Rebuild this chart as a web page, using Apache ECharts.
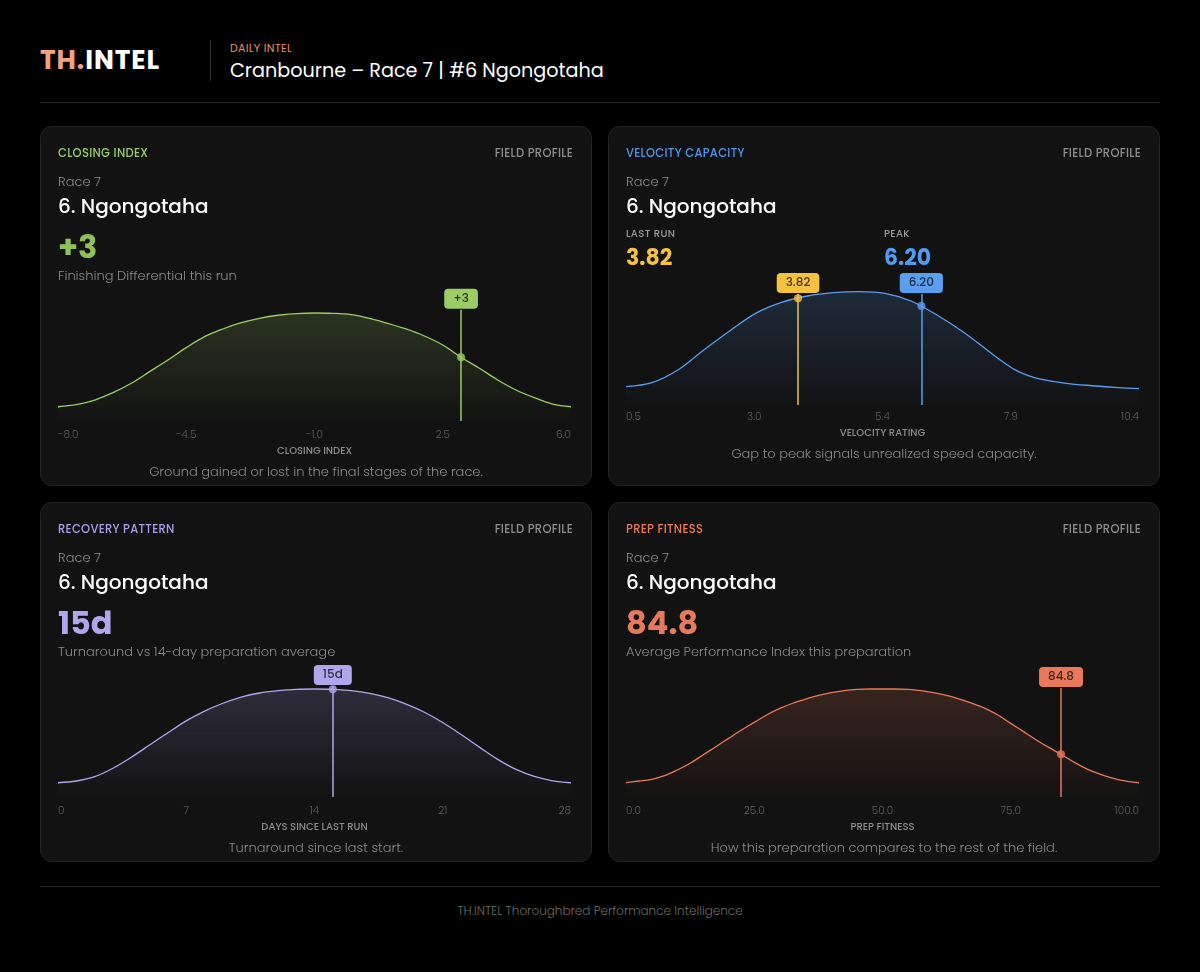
<!DOCTYPE html>
<html><head><meta charset="utf-8">
<script src="https://cdn.jsdelivr.net/npm/echarts@6/dist/echarts.min.js"></script>
<style>
html,body{margin:0;padding:0;background:#000;}
body{width:1200px;height:972px;position:relative;overflow:hidden;font-family:Poppins,Inter,"Noto Sans",sans-serif;}
.t{position:absolute;white-space:nowrap;}
.panel{position:absolute;width:550px;height:358px;background:#121212;border:1px solid #232323;border-radius:12px;}
.chart{position:absolute;left:0;top:0;width:550px;height:358px;}
.ptitle{top:18px;left:17px;height:16px;line-height:16px;font-size:11.5px;font-weight:500;letter-spacing:.3px;}
.pfield{top:18px;right:18px;height:16px;line-height:16px;font-size:11.5px;font-weight:500;color:#8e8e8e;letter-spacing:.3px;}
.race{top:46px;left:17px;height:18px;line-height:18px;font-size:13px;font-weight:300;color:#8c8c8c;}
.name{top:66px;left:17px;height:26px;line-height:26px;font-size:20px;font-weight:500;color:#fff;}
.big{top:100px;left:17px;height:40px;line-height:40px;font-size:32px;font-weight:700;}
.sub{top:140px;left:17px;height:18px;line-height:18px;font-size:13px;font-weight:300;color:#8a8a8a;}
.cap{left:0;width:550px;text-align:center;height:18px;line-height:18px;font-size:13px;font-weight:300;color:#8a8a8a;}
.stl{top:100px;height:14px;line-height:14px;font-size:10px;font-weight:500;color:#9a9a9a;letter-spacing:.4px;}
.stv{top:117px;height:28px;line-height:28px;font-size:22px;font-weight:700;}
</style></head>
<body>
<div class="t" style="left:40px;top:45px;height:30px;line-height:30px;font-size:26.5px;font-weight:700;letter-spacing:.9px;"><span style="color:#f0a283">TH.</span><span style="color:#fff">INTEL</span></div>
<div style="position:absolute;left:210px;top:40px;width:1px;height:41px;background:#333"></div>
<div class="t" style="left:230px;top:40px;height:16px;line-height:16px;font-size:11px;color:#e98f6f;letter-spacing:.3px;">DAILY INTEL</div>
<div class="t" style="left:230px;top:59px;height:24px;line-height:24px;font-size:19.2px;color:#fff;">Cranbourne – Race 7 | #6 Ngongotaha</div>
<div style="position:absolute;left:40px;top:102px;width:1120px;height:1px;background:#262626"></div>

<div class="panel" style="left:40px;top:126px;">
  <div class="chart" id="c1"></div>
  <div class="t ptitle" style="color:#9ccc65">CLOSING INDEX</div>
  <div class="t pfield">FIELD PROFILE</div>
  <div class="t race">Race 7</div>
  <div class="t name">6. Ngongotaha</div>
  <div class="t big" style="color:#8fc256">+3</div>
  <div class="t sub">Finishing Differential this run</div>
  <div class="t cap" style="top:336px;">Ground gained or lost in the final stages of the race.</div>
</div>

<div class="panel" style="left:608px;top:126px;">
  <div class="chart" id="c2"></div>
  <div class="t ptitle" style="color:#4f96ea">VELOCITY CAPACITY</div>
  <div class="t pfield">FIELD PROFILE</div>
  <div class="t race">Race 7</div>
  <div class="t name">6. Ngongotaha</div>
  <div class="t stl" style="left:17px;">LAST RUN</div>
  <div class="t stl" style="left:275px;">PEAK</div>
  <div class="t stv" style="left:17px;color:#f5c242">3.82</div>
  <div class="t stv" style="left:275px;color:#4f9cf0">6.20</div>
  <div class="t cap" style="top:318px;">Gap to peak signals unrealized speed capacity.</div>
</div>

<div class="panel" style="left:40px;top:502px;">
  <div class="chart" id="c3"></div>
  <div class="t ptitle" style="color:#a99ee8">RECOVERY PATTERN</div>
  <div class="t pfield">FIELD PROFILE</div>
  <div class="t race">Race 7</div>
  <div class="t name">6. Ngongotaha</div>
  <div class="t big" style="color:#b0a6ec">15d</div>
  <div class="t sub">Turnaround vs 14-day preparation average</div>
  <div class="t cap" style="top:336px;">Turnaround since last start.</div>
</div>

<div class="panel" style="left:608px;top:502px;">
  <div class="chart" id="c4"></div>
  <div class="t ptitle" style="color:#e8795a">PREP FITNESS</div>
  <div class="t pfield">FIELD PROFILE</div>
  <div class="t race">Race 7</div>
  <div class="t name">6. Ngongotaha</div>
  <div class="t big" style="color:#e57a5c">84.8</div>
  <div class="t sub">Average Performance Index this preparation</div>
  <div class="t cap" style="top:336px;">How this preparation compares to the rest of the field.</div>
</div>

<div style="position:absolute;left:40px;top:886px;width:1120px;height:1px;background:#262626"></div>
<div class="t" style="left:0;width:1200px;text-align:center;top:903px;height:16px;line-height:16px;font-size:12px;font-weight:300;color:#6a6a6a;">TH.INTEL Thoroughbred Performance Intelligence</div>

<script>
// ---- Closing index ----
const closingX = [-8,-7.5,-7,-6.5,-6,-5.5,-5,-4.5,-4,-3.5,-3,-2.5,-2,-1.5,-1,-0.5,0,0.5,1,1.5,2,2.5,3,3.5,4,4.5,5,5.5,6];
const closingY = [0.132,0.151,0.194,0.262,0.349,0.457,0.565,0.679,0.781,0.852,0.910,0.951,0.979,0.994,1.0,0.997,0.985,0.951,0.905,0.852,0.787,0.704,0.590,0.488,0.380,0.287,0.216,0.157,0.132];
const closingTicks = [-8,-4.5,-1,2.5,6];
const closingTickLabels = ['-8.0','-4.5','-1.0','2.5','6.0'];
const closingMarkers = [{x:3, y:0.59, label:'+3'}];

// ---- Velocity capacity ----
const velocityX = [0.5,1,1.5,2,2.5,3,3.5,4,4.5,5,5.5,6,6.5,7,7.5,7.75,8,8.25,8.5,9,9.5,10,10.4];
const velocityY = [0.162,0.197,0.309,0.485,0.653,0.809,0.906,0.962,0.991,1.0,0.986,0.918,0.794,0.647,0.475,0.388,0.312,0.262,0.228,0.191,0.170,0.153,0.144];
const velocityTicks = [0.5,2.975,5.45,7.925,10.4];
const velocityTickLabels = ['0.5','3.0','5.4','7.9','10.4'];
const velocityMarkers = [{x:3.82, y:0.942, label:'3.82'},{x:6.20, y:0.874, label:'6.20'}];

// ---- Recovery pattern ----
const recoveryX = [0,1,2,3,4,5,6,7,8,9,10,11,12,13,14,15,16,17,18,19,20,21,22,23,24,25,26,27,28];
const recoveryY = [0.132,0.148,0.188,0.266,0.368,0.481,0.595,0.705,0.795,0.868,0.925,0.963,0.984,0.997,1.0,0.997,0.984,0.960,0.920,0.860,0.785,0.690,0.578,0.462,0.348,0.255,0.190,0.150,0.132];
const recoveryTicks = [0,7,14,21,28];
const recoveryTickLabels = ['0','7','14','21','28'];
const recoveryMarkers = [{x:15, y:0.997, label:'15d'}];

// ---- Prep fitness ----
const prepX = [0,2.5,5,7.5,10,12.5,15,17.5,20,22.5,25,27.5,30,32.5,35,37.5,40,42.5,45,47.5,50,52.5,55,57.5,60,62.5,65,67.5,70,72.5,75,77.5,80,82.5,85,87.5,90,92.5,95,97.5,100];
const prepY = [0.134,0.148,0.164,0.197,0.250,0.312,0.389,0.466,0.543,0.620,0.691,0.762,0.820,0.868,0.907,0.941,0.966,0.985,0.997,1.0,1.0,1.0,0.997,0.985,0.966,0.941,0.907,0.867,0.821,0.759,0.682,0.605,0.528,0.457,0.389,0.318,0.256,0.210,0.173,0.148,0.132];
const prepTicks = [0,25,50,75,100];
const prepTickLabels = ['0.0','25.0','50.0','75.0','100.0'];
const prepMarkers = [{x:84.8, y:0.395, label:'84.8'}];

function rgba(hex, a){
  const n = parseInt(hex.slice(1),16);
  return 'rgba('+((n>>16)&255)+','+((n>>8)&255)+','+(n&255)+','+a+')';
}

function build(id, xs, ys, ticks, tickLabels, markers, cfg){
  const chart = echarts.init(document.getElementById(id), null, {renderer:'canvas'});
  const pts = xs.map((x,i)=>[x, ys[i]]);
  const markData = markers.map(m => [
    {coord:[m.x,0], lineStyle:{color:m.color||cfg.color},
      label:{show:true, position:'end', formatter:m.label, backgroundColor:m.color||cfg.color,
        color:'rgba(0,0,0,0.72)', fontSize:12, fontWeight:500, fontFamily:'Poppins, Inter, sans-serif',
        padding:[4,9,3,9], lineHeight:13, borderRadius:4, distance:1}},
    {coord:[m.x,cfg.lineTop]}
  ]);
  const series = [{
    type:'line', data:pts, smooth:0.35, symbol:'none', z:2,
    lineStyle:{color:cfg.color, width:1.3},
    areaStyle:{color:new echarts.graphic.LinearGradient(0,0,0,1,[
      {offset:0,color:rgba(cfg.color,cfg.alpha)},{offset:1,color:rgba(cfg.color,0.01)}])},
    markLine:{silent:true, symbol:['none','none'], animation:false,
      lineStyle:{width:1.5,type:'solid'}, emphasis:{disabled:true}, data:markData}
  }];
  markers.forEach(m => series.push({type:'scatter', data:[[m.x,m.y]], symbolSize:8, z:5,
    itemStyle:{color:m.color||cfg.color}, silent:true}));
  chart.setOption({
    animation:false,
    grid:{left:17,right:20,top:cfg.top,bottom:cfg.bottom},
    xAxis:{type:'value', min:xs[0], max:xs[xs.length-1],
      name:cfg.name, nameLocation:'middle', nameGap:cfg.nameGap,
      nameTextStyle:{color:'#8c8c8c', fontSize:10, fontWeight:500, fontFamily:'Poppins, Inter, sans-serif'},
      axisLine:{show:false}, axisTick:{show:false}, splitLine:{show:false},
      axisLabel:{customValues:ticks, color:'#5f5f5f', fontSize:10.5, fontWeight:300, margin:cfg.labelMargin,
        fontFamily:'Poppins, Inter, sans-serif', alignMinLabel:'left', alignMaxLabel:'right',
        formatter:v=>{const i=ticks.findIndex(t=>Math.abs(t-v)<1e-6); return i>=0?tickLabels[i]:'';}}},
    yAxis:{type:'value', min:0, max:1.3, show:false, splitLine:{show:false}},
    series
  });
}

build('c1', closingX, closingY, closingTicks, closingTickLabels, closingMarkers,
  {color:'#9ccc65', alpha:0.26, top:153.6, bottom:64, lineTop:1.03, name:'CLOSING INDEX', nameGap:25, labelMargin:9});
velocityMarkers[0].color = '#f5c242';
velocityMarkers[1].color = '#5a9ef0';
build('c2', velocityX, velocityY, velocityTicks, velocityTickLabels, velocityMarkers,
  {color:'#5a9ef0', alpha:0.26, top:130.7, bottom:80, lineTop:0.98, name:'VELOCITY RATING', nameGap:23, labelMargin:7});
build('c3', recoveryX, recoveryY, recoveryTicks, recoveryTickLabels, recoveryMarkers,
  {color:'#b0a6ec', alpha:0.26, top:153.6, bottom:64, lineTop:1.028, name:'DAYS SINCE LAST RUN', nameGap:25, labelMargin:9});
build('c4', prepX, prepY, prepTicks, prepTickLabels, prepMarkers,
  {color:'#e8795a', alpha:0.26, top:153.6, bottom:64, lineTop:1.01, name:'PREP FITNESS', nameGap:25, labelMargin:9});
</script>
</body></html>
